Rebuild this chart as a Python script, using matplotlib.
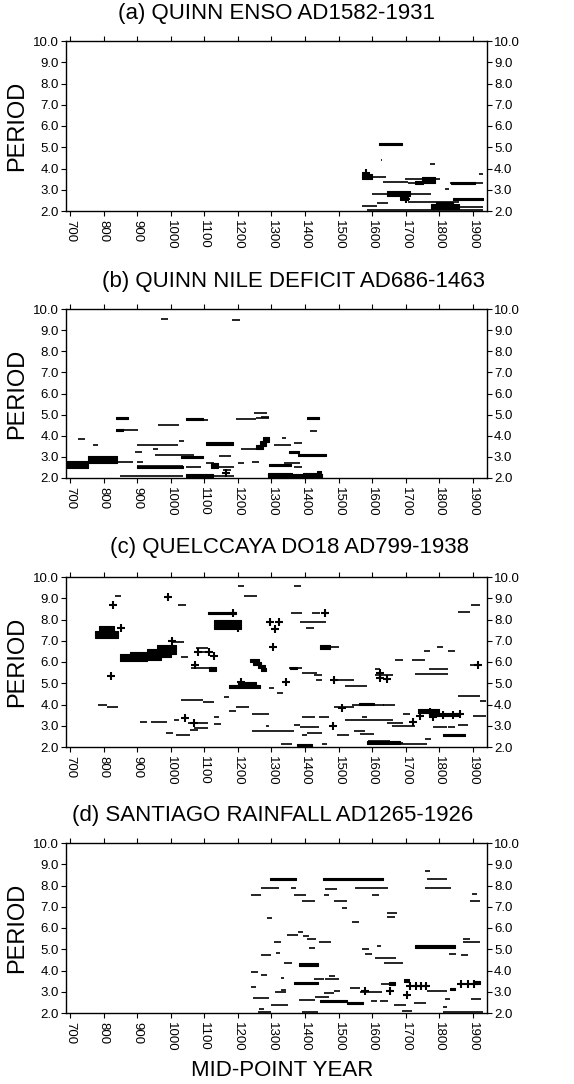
import matplotlib
matplotlib.use("Agg")
import matplotlib.pyplot as plt
import numpy as np

plt.rcParams["font.family"] = ["Liberation Sans", "DejaVu Sans"]

# ---- data: (start year, end year, period) for dashes,
#      (start, end, low period, high period) for dense blobs,
#      (year, period) for plus markers
titles = ["(a) QUINN ENSO AD1582-1931",
          "(b) QUINN NILE DEFICIT AD686-1463",
          "(c) QUELCCAYA DO18 AD799-1938",
          "(d) SANTIAGO RAINFALL AD1265-1926"]

year_ticks = [700, 800, 900, 1000, 1100, 1200, 1300, 1400, 1500, 1600, 1700, 1800, 1900]
period_ticks = [2.0, 3.0, 4.0, 5.0, 6.0, 7.0, 8.0, 9.0, 10.0]

enso_segments = [
    (1625, 1628, 4.42), (1772, 1786, 4.23), (1917, 1930, 3.73),
    (1600, 1640, 3.58), (1633, 1707, 3.37), (1707, 1782, 3.32),
    (1697, 1801, 3.50), (1831, 1930, 3.32), (1599, 1776, 2.82),
    (1816, 1830, 3.05), (1707, 1860, 2.41), (1569, 1614, 2.25),
    (1614, 1648, 2.38), (1860, 1930, 2.19), (1584, 1930, 2.03),
]
enso_blobs = [
    (1620, 1688, 5.12, 5.20), (1570, 1600, 3.50, 3.72),
    (1727, 1752, 3.25, 3.40), (1747, 1786, 3.32, 3.58),
    (1835, 1905, 3.28, 3.36), (1643, 1712, 2.72, 2.95),
    (1683, 1707, 2.50, 2.75), (1841, 1930, 2.52, 2.62),
    (1775, 1860, 2.08, 2.32), (1790, 1840, 2.30, 2.42),
]
enso_plus = [(1582, 3.78), (1700, 2.55)]

nile_segments = [
    (972, 991, 9.53), (1182, 1207, 9.50), (1248, 1288, 5.06),
    (1268, 1293, 4.90), (1193, 1255, 4.78), (1255, 1293, 4.82),
    (838, 903, 4.28), (962, 1026, 4.52), (1095, 1110, 4.74),
    (1416, 1436, 4.23), (723, 744, 3.84), (769, 784, 3.57),
    (898, 1021, 3.57), (1024, 1039, 3.76), (893, 913, 3.25),
    (947, 962, 3.37), (952, 1070, 3.07), (1144, 1179, 3.05),
    (1209, 1258, 3.37), (1307, 1357, 3.58), (1332, 1342, 3.87),
    (1367, 1391, 3.64), (838, 888, 2.75), (898, 918, 2.75),
    (898, 1036, 2.55), (1046, 1090, 2.50), (1105, 1130, 2.70),
    (1140, 1189, 2.50), (1155, 1179, 2.40), (1199, 1218, 2.70),
    (1243, 1263, 2.75), (1367, 1391, 2.50), (1337, 1386, 2.70),
    (850, 1036, 2.08), (1125, 1189, 2.10),
]
nile_blobs = [
    (838, 873, 4.78, 4.88), (838, 858, 4.22, 4.34), (1046, 1095, 4.74, 4.84),
    (1406, 1441, 4.78, 4.88), (1105, 1184, 3.58, 3.70), (1031, 1095, 2.95, 3.05),
    (1255, 1275, 3.38, 3.55), (1265, 1285, 3.50, 3.75), (1275, 1292, 3.70, 3.95),
    (1352, 1382, 3.16, 3.28), (1380, 1462, 3.02, 3.14), (688, 754, 2.48, 2.82),
    (754, 840, 2.72, 3.05), (900, 1036, 2.45, 2.55), (1120, 1140, 2.48, 2.70),
    (1293, 1357, 2.55, 2.65), (1046, 1125, 2.06, 2.20), (1290, 1450, 2.06, 2.18),
    (1290, 1360, 2.14, 2.22), (1395, 1440, 2.14, 2.22), (1436, 1448, 2.10, 2.35),
]
nile_plus = [(1165, 2.25)]

quel_segments = [
    (1199, 1218, 9.60), (1367, 1387, 9.60), (833, 853, 9.10),
    (1219, 1258, 9.10), (1021, 1046, 8.70), (1895, 1920, 8.70),
    (1856, 1890, 8.34), (1357, 1391, 8.30), (1422, 1446, 8.30),
    (1386, 1461, 7.88), (1402, 1427, 7.60), (1000, 1040, 6.95),
    (1031, 1051, 6.25), (1075, 1110, 6.67), (1080, 1125, 6.47),
    (1061, 1130, 5.70), (1352, 1391, 5.72), (1391, 1436, 5.48),
    (1427, 1451, 5.38), (1432, 1452, 5.17), (1446, 1500, 6.70),
    (1480, 1545, 5.15), (1520, 1584, 4.85), (1608, 1623, 5.65),
    (1608, 1663, 5.40), (1669, 1693, 6.10), (1719, 1758, 6.08),
    (1753, 1772, 6.50), (1792, 1811, 6.70), (1827, 1846, 6.50),
    (1728, 1827, 5.45), (1768, 1827, 5.68), (1293, 1308, 4.78),
    (1317, 1333, 4.55), (1159, 1174, 4.35), (1031, 1095, 4.20),
    (1095, 1130, 4.10), (784, 809, 3.96), (809, 843, 3.88),
    (1540, 1634, 4.00), (1633, 1668, 3.96), (1856, 1920, 4.38),
    (1920, 1940, 4.15), (1485, 1545, 3.87), (1174, 1194, 3.70),
    (1194, 1233, 3.87), (1243, 1293, 3.57), (1391, 1431, 3.40),
    (1441, 1470, 3.40), (1693, 1713, 3.57), (1900, 1940, 3.45),
    (907, 930, 3.16), (940, 990, 3.16), (1011, 1026, 3.25),
    (1051, 1110, 3.13), (1070, 1110, 2.90), (1056, 1080, 2.80),
    (1130, 1145, 3.40), (1130, 1150, 3.08), (986, 1006, 2.66),
    (1016, 1056, 2.55), (1623, 1663, 3.25), (1520, 1623, 3.25),
    (1570, 1584, 3.40), (1367, 1386, 3.05), (1386, 1441, 2.95),
    (1243, 1367, 2.75), (1283, 1293, 2.97), (1391, 1406, 2.58),
    (1406, 1451, 2.65), (1495, 1530, 2.55), (1545, 1580, 2.74),
    (1565, 1604, 2.60), (1643, 1693, 3.13), (1658, 1693, 2.97),
    (1693, 1728, 2.97), (1782, 1822, 2.95), (1827, 1846, 2.95),
    (1856, 1886, 3.05), (1758, 1774, 2.40), (1328, 1362, 2.15),
    (1451, 1466, 2.15), (1589, 1653, 2.30), (1653, 1693, 2.18),
    (1683, 1762, 2.15), (1890, 1915, 5.88), (1174, 1265, 4.85),
]
quel_blobs = [
    (1110, 1194, 8.24, 8.36), (1130, 1209, 7.55, 7.98), (774, 843, 7.15, 7.45),
    (785, 830, 7.40, 7.70), (850, 930, 6.05, 6.40), (880, 970, 6.10, 6.45),
    (930, 1000, 6.25, 6.60), (960, 1015, 6.40, 6.80), (1115, 1135, 5.60, 5.75),
    (1235, 1263, 6.00, 6.15), (1245, 1270, 5.88, 6.02), (1260, 1280, 5.72, 5.88),
    (1270, 1285, 5.58, 5.72), (1175, 1265, 4.78, 4.92), (1200, 1255, 4.90, 5.05),
    (1446, 1475, 6.62, 6.78), (1735, 1800, 3.62, 3.78), (1770, 1860, 3.48, 3.62),
    (1560, 1605, 3.97, 4.06), (1812, 1876, 2.50, 2.60), (1377, 1421, 2.03, 2.13),
    (1584, 1683, 2.16, 2.26), (1355, 1375, 5.65, 5.78),
]
quel_plus = [
    (993, 9.08), (828, 8.67), (1184, 8.30), (1199, 7.60), (1296, 7.90),
    (1323, 7.90), (1310, 7.57), (1460, 8.30), (851, 7.60), (1004, 7.00),
    (1080, 6.47), (1115, 6.47), (1130, 6.27), (1071, 5.85), (1305, 6.70),
    (1485, 5.17), (1623, 5.25), (1643, 5.20), (1623, 5.50), (1210, 5.05),
    (1342, 5.07), (1510, 3.85), (1722, 3.20), (1742, 3.45), (1772, 3.65),
    (1782, 3.42), (1812, 3.52), (1840, 3.52), (1862, 3.55), (1041, 3.37),
    (1070, 3.13), (1483, 3.00), (1915, 5.88), (821, 5.35),
]

sant_segments = [
    (1757, 1772, 8.68), (1762, 1822, 8.30), (1269, 1323, 7.87),
    (1358, 1372, 7.87), (1460, 1495, 7.85), (1548, 1647, 7.90),
    (1757, 1836, 7.90), (1238, 1269, 7.56), (1367, 1402, 7.56),
    (1457, 1470, 7.56), (1600, 1620, 7.56), (1898, 1912, 7.60),
    (1392, 1431, 7.28), (1486, 1525, 7.28), (1890, 1920, 7.28),
    (1510, 1525, 6.96), (1645, 1674, 6.70), (1645, 1668, 6.50),
    (1288, 1302, 6.45), (1540, 1560, 6.27), (1345, 1380, 5.67),
    (1380, 1393, 5.83), (1393, 1411, 5.63), (1406, 1432, 5.46),
    (1441, 1476, 5.35), (1307, 1327, 5.35), (1411, 1430, 5.04),
    (1615, 1625, 5.15), (1570, 1590, 5.00), (1871, 1891, 5.46),
    (1871, 1920, 5.35), (1268, 1300, 4.74), (1315, 1325, 4.83),
    (1580, 1600, 4.80), (1830, 1850, 4.77), (1864, 1884, 4.75),
    (1609, 1672, 4.57), (1634, 1693, 4.36), (1337, 1362, 4.36),
    (1240, 1260, 3.94), (1269, 1288, 3.78), (1329, 1338, 3.67),
    (1426, 1456, 3.58), (1460, 1500, 3.62), (1470, 1490, 3.73),
    (1240, 1255, 3.23), (1328, 1343, 3.07), (1626, 1667, 3.38),
    (1535, 1565, 3.17), (1565, 1628, 2.99), (1762, 1822, 3.02),
    (1455, 1485, 2.92), (1485, 1505, 3.02), (1312, 1342, 3.00),
    (1245, 1294, 2.72), (1383, 1430, 2.63), (1430, 1470, 2.76),
    (1595, 1614, 2.55), (1624, 1648, 2.55), (1817, 1832, 2.68),
    (1895, 1925, 2.68), (1300, 1350, 2.36), (1664, 1700, 2.36),
    (1726, 1760, 2.49), (1264, 1279, 2.20), (1812, 1822, 2.28),
    (1260, 1300, 2.05), (1390, 1440, 2.05), (1690, 1720, 2.08),
    (1810, 1930, 2.05),
]
sant_blobs = [
    (1296, 1372, 8.26, 8.34), (1454, 1632, 8.26, 8.34), (1382, 1440, 4.22, 4.34),
    (1728, 1847, 5.06, 5.18), (1368, 1440, 3.37, 3.47), (1695, 1710, 3.48, 3.62),
    (1445, 1524, 2.50, 2.60), (1524, 1573, 2.42, 2.52), (1900, 1920, 3.38, 3.52),
    (1650, 1668, 3.32, 3.45), (1832, 1848, 3.08, 3.20),
]
sant_plus = [
    (1653, 3.05), (1712, 3.25), (1731, 3.25), (1746, 3.25), (1759, 3.25),
    (1705, 2.86), (1580, 3.02), (1864, 3.38), (1884, 3.38), (1904, 3.38),
]

panels = [
    (enso_segments, enso_blobs, enso_plus),
    (nile_segments, nile_blobs, nile_plus),
    (quel_segments, quel_blobs, quel_plus),
    (sant_segments, sant_blobs, sant_plus),
]

# ---- layout (figure pixels: 574 x 1084)
W, H = 574, 1084
ax_left, ax_right = 66, 487
ax_tops = [41, 309, 577, 843]
ax_bottoms = [211, 478, 747, 1013]
title_pos = [(277, 14), (294, 281), (289, 548), (273, 816)]

fig = plt.figure(figsize=(W / 100, H / 100), dpi=100)

for i, (segs, blobs, plus) in enumerate(panels):
    top, bot = ax_tops[i], ax_bottoms[i]
    ax = fig.add_axes([ax_left / W, 1 - bot / H,
                       (ax_right - ax_left) / W, (bot - top) / H])

    for x0, x1, p in segs:
        ax.hlines(p, x0, x1, color="black", lw=1.2)
    for x0, x1, p0, p1 in blobs:
        ax.fill_between([x0, x1], p0, p1, color="black", lw=0.8,
                        edgecolor="black")
    if plus:
        px, pp = zip(*plus)
        ax.plot(px, pp, ls="none", marker="+", ms=6, mew=1.5, color="black")

    ax.set_xlim(688, 1942)
    ax.set_ylim(2.0, 10.0)
    ax.set_xticks(year_ticks)
    ax.set_xticklabels([str(y) for y in year_ticks], rotation=270)
    ax.set_yticks(period_ticks)
    ax.set_yticklabels([f"{p:.1f}" for p in period_ticks])
    ax.tick_params(direction="out", length=3.5, width=0.8, labelsize=9.5,
                   top=True, right=True, labelright=True, pad=1.5)
    ax.tick_params(axis="x", pad=3)
    for s in ax.spines.values():
        s.set_linewidth(1.0)

    fig.text(title_pos[i][0] / W, 1 - title_pos[i][1] / H, titles[i],
             ha="center", va="center", fontsize=16)
    fig.text(17 / W, 1 - (top + bot) / 2 / H, "PERIOD", rotation=90,
             ha="center", va="center", fontsize=17)

fig.text(282 / W, 1 - 1070 / H, "MID-POINT YEAR", ha="center", va="center",
         fontsize=16)

fig.savefig("out.png", dpi=100)
